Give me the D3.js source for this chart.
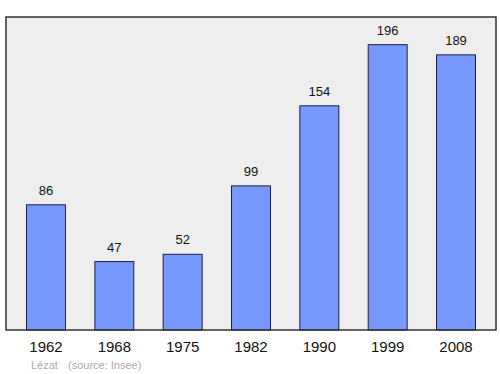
<!DOCTYPE html>
<html>
<head>
<meta charset="utf-8">
<script src="https://cdn.jsdelivr.net/npm/d3@7"></script>
<style>
  body { margin: 0; background: #fff; }
  svg { display: block; font-family: "Liberation Sans", Arial, sans-serif; }
</style>
</head>
<body>
<svg class="canvas" width="500" height="374"></svg>
<script>
var years = ["1962", "1968", "1975", "1982", "1990", "1999", "2008"];
var population = [86, 47, 52, 99, 154, 196, 189];
var commune = "Lézat";
var source = "(source: Insee)";

var width = 500;
var height = 374;
var plot = { left: 6, top: 17, right: 496, bottom: 330 };

var svg = d3.select('.canvas');

var x = d3.scaleBand()
    .domain(years)
    .range([plot.left, plot.right])
    .paddingInner(0.43)
    .paddingOuter(0.3);

var y = d3.scaleLinear()
    .domain([0, 215])
    .range([plot.bottom, plot.top]);

// background frame
svg.append("rect")
    .attr("x", plot.left)
    .attr("y", plot.top)
    .attr("width", plot.right - plot.left)
    .attr("height", plot.bottom - plot.top)
    .style("fill", "#eeeeee");

var data = years.map(function(yr, i) { return { year: yr, value: population[i] }; });

svg.selectAll(".bar")
    .data(data)
    .enter()
    .append("rect")
        .attr("class", "bar")
        .attr("x", function(d) { return x(d.year); })
        .attr("y", function(d) { return y(d.value); })
        .attr("width", x.bandwidth())
        .attr("height", function(d) { return y(0) - y(d.value); })
        .style("fill", "#7799ff")
        .attr("stroke", "#1a2040")
        .attr("stroke-width", 1);

svg.selectAll(".val")
    .data(data)
    .enter()
    .append("text")
        .attr("class", "val")
        .attr("x", function(d) { return x(d.year) + x.bandwidth() / 2; })
        .attr("y", function(d) { return y(d.value) - 10; })
        .attr("text-anchor", "middle")
        .style("font-size", "13px")
        .style("fill", "#111")
        .text(function(d) { return d.value; });

// frame border on top
svg.append("rect")
    .attr("x", plot.left)
    .attr("y", plot.top)
    .attr("width", plot.right - plot.left)
    .attr("height", plot.bottom - plot.top)
    .style("fill", "none")
    .attr("stroke", "#333")
    .attr("stroke-width", 1.5);

var xAxis = d3.axisBottom(x).tickSize(0).tickPadding(11);
var gx = svg.append("g")
    .attr("transform", "translate(0," + plot.bottom + ")")
    .call(xAxis);
gx.select(".domain").remove();
gx.selectAll("text")
    .style("font-size", "15px")
    .style("font-family", "Liberation Sans, Arial, sans-serif")
    .style("fill", "#111");

svg.append("text")
    .attr("x", 31)
    .attr("y", 369)
    .style("font-size", "11px")
    .style("fill", "#aaa")
    .text(commune);

svg.append("text")
    .attr("x", 68)
    .attr("y", 369)
    .style("font-size", "11px")
    .style("fill", "#aaa")
    .text(source);
</script>
</body>
</html>
